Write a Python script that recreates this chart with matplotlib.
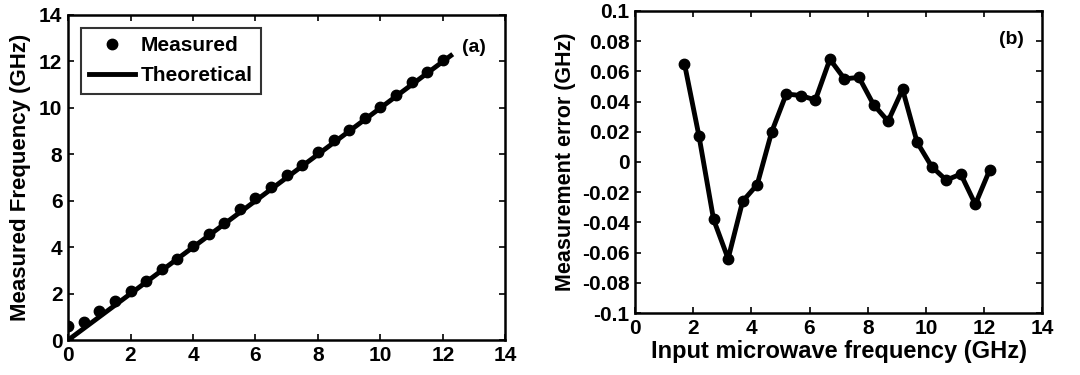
import numpy as np
import matplotlib
matplotlib.use("Agg")
import matplotlib.pyplot as plt

plt.rcParams['font.family'] = ['Liberation Sans', 'DejaVu Sans']
plt.rcParams['font.weight'] = 'bold'

# panel (a): measured vs theoretical
x_meas = [0, 0.5, 1, 1.5, 2, 2.5, 3, 3.5, 4, 4.5, 5, 5.5, 6, 6.5, 7, 7.5,
          8, 8.5, 9, 9.5, 10, 10.5, 11, 11.5, 12]
y_meas = [0.6, 0.8, 1.25, 1.7, 2.1, 2.55, 3.05, 3.5, 4.05, 4.55, 5.05, 5.65,
          6.1, 6.6, 7.1, 7.55, 8.1, 8.6, 9.05, 9.55, 10.05, 10.55, 11.1, 11.55, 12.05]
x_theory = [0, 12.25]
y_theory = [0, 12.25]

# panel (b): measurement error
x_err = [1.7, 2.2, 2.7, 3.2, 3.7, 4.2, 4.7, 5.2, 5.7, 6.2, 6.7, 7.2, 7.7,
         8.2, 8.7, 9.2, 9.7, 10.2, 10.7, 11.2, 11.7, 12.2]
y_err = [0.065, 0.017, -0.038, -0.064, -0.026, -0.015, 0.020, 0.045, 0.044,
         0.041, 0.068, 0.055, 0.056, 0.038, 0.027, 0.048, 0.013, -0.003,
         -0.012, -0.008, -0.028, -0.005]

fig = plt.figure(figsize=(10.8, 3.75), dpi=100)
ax1 = fig.add_axes([0.063, 0.093, 0.405, 0.867])
ax2 = fig.add_axes([0.588, 0.165, 0.377, 0.806])

ax1.plot(x_theory, y_theory, color='black', linewidth=3.5, label='Theoretical', zorder=2)
ax1.plot(x_meas, y_meas, 'o', color='black', markersize=7.5, label='Measured', zorder=3)
ax1.set_xlim(0, 14)
ax1.set_ylim(0, 14)
ax1.set_xticks(range(0, 15, 2))
ax1.set_yticks(range(0, 15, 2))
ax1.set_ylabel('Measured Frequency (GHz)', fontsize=16, fontweight='bold', labelpad=6)
h, l = ax1.get_legend_handles_labels()
leg = ax1.legend([h[1], h[0]], [l[1], l[0]], loc='upper left', fontsize=15,
                 frameon=True, fancybox=False, edgecolor='black',
                 handlelength=2.2, handletextpad=0.3, borderaxespad=0.6,
                 labelspacing=0.55, borderpad=0.4)
leg.get_frame().set_linewidth(1.5)
ax1.text(0.955, 0.90, '(a)', transform=ax1.transAxes, ha='right', va='center',
         fontsize=14, fontweight='bold')

ax2.plot(x_err, y_err, '-o', color='black', linewidth=3.5, markersize=7.5)
ax2.set_xlim(0, 14)
ax2.set_ylim(-0.1, 0.1)
ax2.set_xticks(range(0, 15, 2))
ax2.set_yticks(np.round(np.arange(-0.1, 0.101, 0.02), 2))
ax2.set_yticklabels(['-0.1', '-0.08', '-0.06', '-0.04', '-0.02', '0',
                     '0.02', '0.04', '0.06', '0.08', '0.1'])
ax2.set_xlabel('Input microwave frequency (GHz)', fontsize=17, fontweight='bold', labelpad=2)
ax2.set_ylabel('Measurement error (GHz)', fontsize=15.5, fontweight='bold', labelpad=4)
ax2.text(0.955, 0.905, '(b)', transform=ax2.transAxes, ha='right', va='center',
         fontsize=14, fontweight='bold')

for ax in (ax1, ax2):
    ax.tick_params(direction='in', top=True, right=True, labelsize=15,
                   length=4, width=1.2, pad=4)
    for lab in ax.get_xticklabels() + ax.get_yticklabels():
        lab.set_fontweight('bold')
    for s in ax.spines.values():
        s.set_linewidth(1.8)

fig.savefig('out.png', dpi=100)
